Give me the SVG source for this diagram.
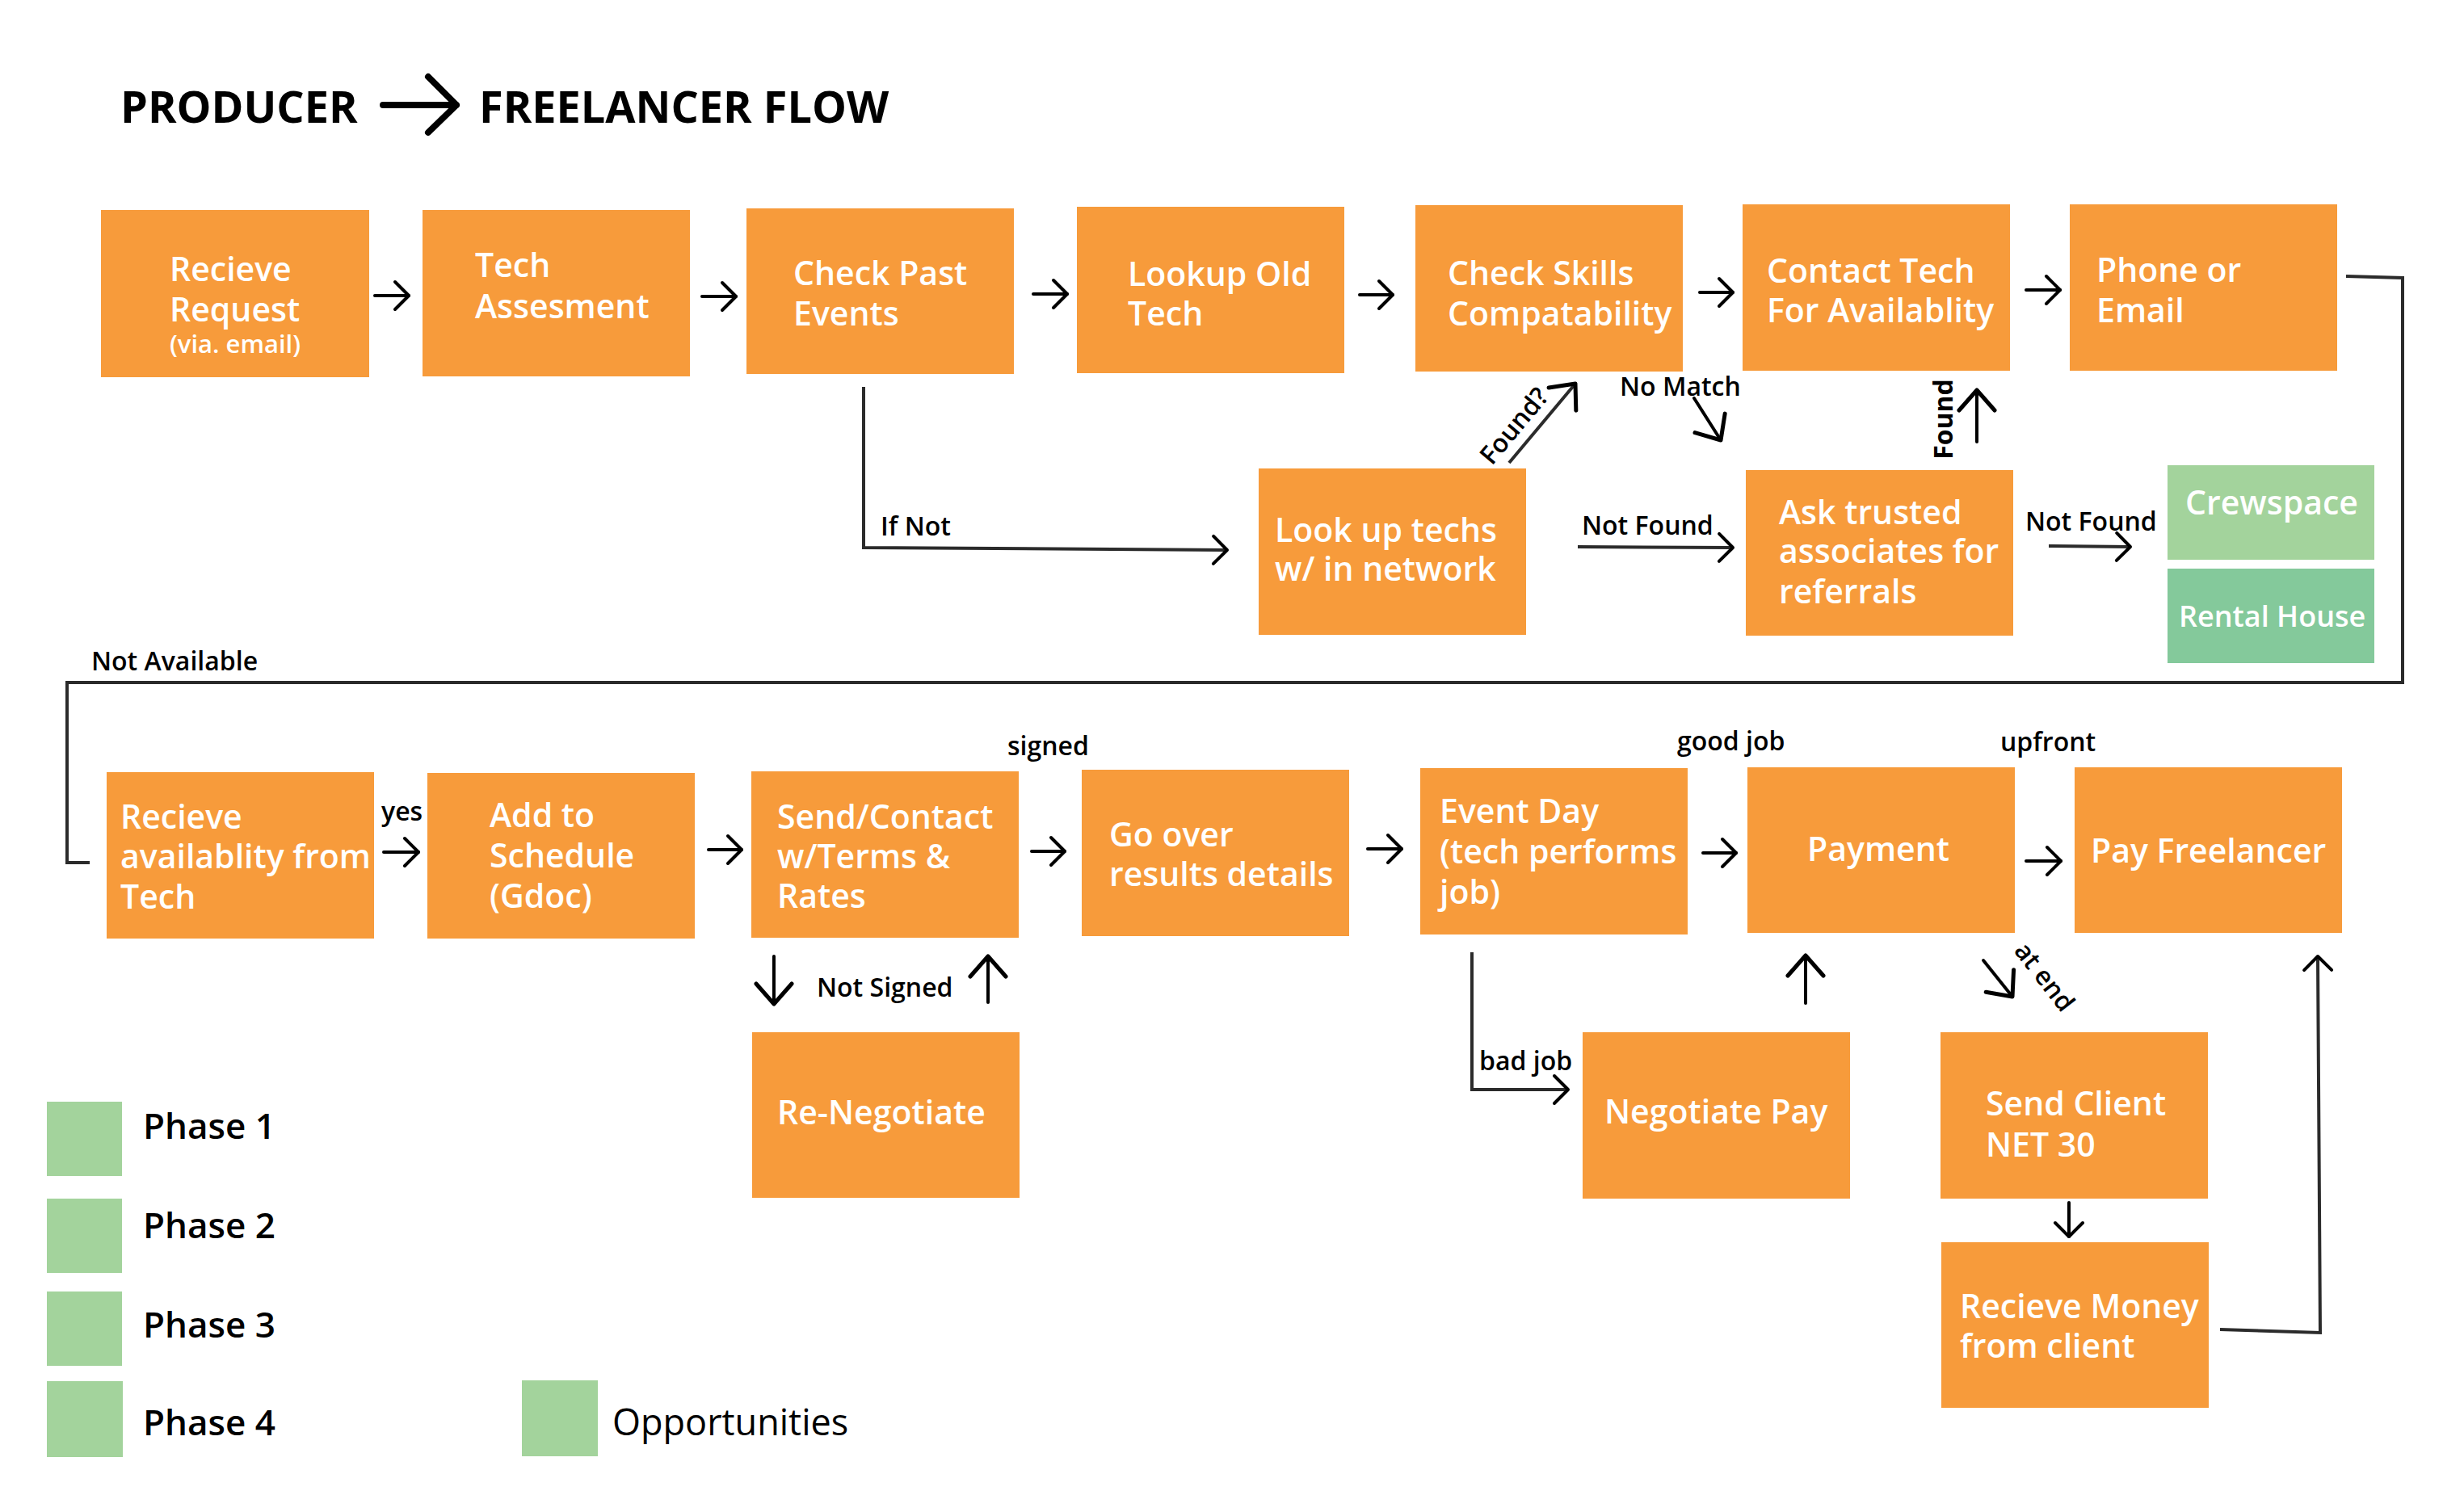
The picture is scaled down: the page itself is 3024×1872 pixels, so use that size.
<svg xmlns="http://www.w3.org/2000/svg" width="3024" height="1872" viewBox="0 0 3024 1872">
<style>
.box{fill:#F79B3B}
.opp{fill:#A3D39C}
.rent{fill:#84C99B}
.t{font-family:"Open Sans","Liberation Sans",sans-serif;font-weight:600;font-size:41px;fill:#fff}
.ts{font-size:31px}
.lb{font-family:"Open Sans","Liberation Sans",sans-serif;font-weight:600;font-size:32px;fill:#000}
.ph{font-family:"Open Sans","Liberation Sans",sans-serif;font-weight:600;font-size:44px;fill:#000}
.title{font-family:"Open Sans","Liberation Sans",sans-serif;font-weight:700;font-size:54px;fill:#000}
.c{fill:none;stroke:#000;stroke-width:4;stroke-linecap:round;stroke-linejoin:round}
.cl{fill:none;stroke:#2b2b2b;stroke-width:4;stroke-linejoin:miter}
</style>
<defs>
<marker id="s" markerUnits="userSpaceOnUse" viewBox="-2 -2 24 40" refX="18" refY="18" markerWidth="24" markerHeight="40" orient="auto">
<path d="M1,1 L18,18 L1,35" fill="none" stroke="#000" stroke-width="4" stroke-linecap="round" stroke-linejoin="round"/>
</marker>
<marker id="L" markerUnits="userSpaceOnUse" viewBox="-2 -2 32 50" refX="26" refY="23" markerWidth="32" markerHeight="50" orient="auto">
<path d="M1,1 L26,23 L1,45" fill="none" stroke="#000" stroke-width="5" stroke-linecap="round" stroke-linejoin="round"/>
</marker>
</defs>
<rect width="3024" height="1872" fill="#fff"/>

<g id="title">
<text class="title" x="149" y="152">PRODUCER</text>
<path d="M474,130 L565,130 M530,95 L565,130 L530,164" fill="none" stroke="#000" stroke-width="8" stroke-linecap="round" stroke-linejoin="round"/>
<text class="title" x="593" y="152">FREELANCER FLOW</text>
</g>

<g id="connectors">
<path class="c" d="M464,366 L506,366" marker-end="url(#s)"/>
<path class="c" d="M869,367 L911,367" marker-end="url(#s)"/>
<path class="c" d="M1279,364 L1321,364" marker-end="url(#s)"/>
<path class="c" d="M1683,365 L1724,365" marker-end="url(#s)"/>
<path class="c" d="M2104,362 L2145,362" marker-end="url(#s)"/>
<path class="c" d="M2508,359 L2550,359" marker-end="url(#s)"/>
<path class="cl" d="M1069,479 L1069,678 L1519,681" marker-end="url(#s)"/>
<path class="cl" d="M1868,573 L1950,475" marker-end="url(#L)"/>
<path class="c" d="M2097,493 L2130,545" marker-end="url(#L)"/>
<path class="c" d="M2447,547 L2447,483" marker-end="url(#L)"/>
<path class="cl" d="M1953,677 L2145,678" marker-end="url(#s)"/>
<path class="cl" d="M2536,676 L2637,677" marker-end="url(#s)"/>
<path class="cl" d="M2904,342 L2974,344 L2974,845 L83,845 L83,1068 L111,1068"/>
<path class="c" d="M475,1055 L518,1055" marker-end="url(#s)"/>
<path class="c" d="M877,1052 L918,1052" marker-end="url(#s)"/>
<path class="c" d="M1277,1054 L1318,1054" marker-end="url(#s)"/>
<path class="c" d="M958,1184 L958,1243" marker-end="url(#L)"/>
<path class="c" d="M1223,1241 L1223,1184" marker-end="url(#L)"/>
<path class="c" d="M1693,1051 L1735,1051" marker-end="url(#s)"/>
<path class="c" d="M2108,1056 L2149,1056" marker-end="url(#s)"/>
<path class="c" d="M2508,1066 L2551,1066" marker-end="url(#s)"/>
<path class="cl" d="M1822,1179 L1822,1349 L1941,1349" marker-end="url(#s)"/>
<path class="c" d="M2235,1242 L2235,1183" marker-end="url(#L)"/>
<path class="c" d="M2455,1189 L2491,1234" marker-end="url(#L)"/>
<path class="c" d="M2561,1489 L2561,1531" marker-end="url(#s)"/>
<path class="cl" d="M2748,1646 L2872,1650 L2869,1184" marker-end="url(#s)"/>
</g>

<g id="labels">
<text class="lb" x="1090" y="663">If Not</text>
<text class="lb" transform="translate(1875,528) rotate(-50)" text-anchor="middle" y="10">Found?</text>
<text class="lb" x="2005" y="490">No Match</text>
<text class="lb" transform="translate(2417,519) rotate(-90)" text-anchor="middle" y="0" style="font-weight:700">Found</text>
<text class="lb" x="1958" y="662">Not Found</text>
<text class="lb" x="2507" y="657">Not Found</text>
<text class="lb" x="113" y="830">Not Available</text>
<text class="lb" x="472" y="1016">yes</text>
<text class="lb" x="1247" y="935">signed</text>
<text class="lb" x="1011" y="1234">Not Signed</text>
<text class="lb" x="2076" y="929">good job</text>
<text class="lb" x="2476" y="930">upfront</text>
<text class="lb" x="1831" y="1325">bad job</text>
<text class="lb" transform="translate(2530,1210) rotate(52)" text-anchor="middle" y="10">at end</text>
</g>

<g id="n-recieve-request"><rect class="box" x="125" y="260" width="332" height="207"/><text class="t" x="210" y="348">Recieve</text><text class="t" x="210" y="398">Request</text><text class="t ts" x="210" y="437">(via. email)</text></g>
<g id="n-tech-assesment"><rect class="box" x="523" y="260" width="331" height="206"/><text class="t" x="588" y="343">Tech</text><text class="t" x="588" y="394">Assesment</text></g>
<g id="n-check-past-events"><rect class="box" x="924" y="258" width="331" height="205"/><text class="t" x="982" y="353">Check Past</text><text class="t" x="982" y="403">Events</text></g>
<g id="n-lookup-old-tech"><rect class="box" x="1333" y="256" width="331" height="206"/><text class="t" x="1396" y="354">Lookup Old</text><text class="t" x="1396" y="403">Tech</text></g>
<g id="n-check-skills"><rect class="box" x="1752" y="254" width="331" height="206"/><text class="t" x="1792" y="353">Check Skills</text><text class="t" x="1792" y="403">Compatability</text></g>
<g id="n-contact-tech"><rect class="box" x="2157" y="253" width="331" height="206"/><text class="t" x="2187" y="350">Contact Tech</text><text class="t" x="2187" y="399">For Availablity</text></g>
<g id="n-phone-email"><rect class="box" x="2562" y="253" width="331" height="206"/><text class="t" x="2595" y="349">Phone or</text><text class="t" x="2595" y="399">Email</text></g>
<g id="n-look-up-techs"><rect class="box" x="1558" y="580" width="331" height="206"/><text class="t" x="1578" y="671">Look up techs</text><text class="t" x="1578" y="719">w/ in network</text></g>
<g id="n-ask-trusted"><rect class="box" x="2161" y="582" width="331" height="205"/><text class="t" x="2202" y="649">Ask trusted</text><text class="t" x="2202" y="697">associates for</text><text class="t" x="2202" y="747">referrals</text></g>
<g id="n-crewspace"><rect class="opp" x="2683" y="576" width="256" height="117"/><text class="t" x="2705" y="637" style="font-size:41px">Crewspace</text></g>
<g id="n-rental-house"><rect class="rent" x="2683" y="704" width="256" height="117"/><text class="t" x="2697" y="776" style="font-size:36px">Rental House</text></g>

<g id="n-recieve-availablity"><rect class="box" x="132" y="956" width="331" height="206"/><text class="t" x="149" y="1026">Recieve</text><text class="t" x="149" y="1075">availablity from</text><text class="t" x="149" y="1125">Tech</text></g>
<g id="n-add-schedule"><rect class="box" x="529" y="957" width="331" height="205"/><text class="t" x="606" y="1024">Add to</text><text class="t" x="606" y="1074">Schedule</text><text class="t" x="606" y="1124">(Gdoc)</text></g>
<g id="n-send-contact"><rect class="box" x="930" y="955" width="331" height="206"/><text class="t" x="962" y="1026">Send/Contact</text><text class="t" x="962" y="1075">w/Terms &amp;</text><text class="t" x="962" y="1124">Rates</text></g>
<g id="n-re-negotiate"><rect class="box" x="931" y="1278" width="331" height="205"/><text class="t" x="962" y="1392">Re-Negotiate</text></g>
<g id="n-go-over"><rect class="box" x="1339" y="953" width="331" height="206"/><text class="t" x="1373" y="1048">Go over</text><text class="t" x="1373" y="1097">results details</text></g>
<g id="n-event-day"><rect class="box" x="1758" y="951" width="331" height="206"/><text class="t" x="1782" y="1019">Event Day</text><text class="t" x="1782" y="1069">(tech performs</text><text class="t" x="1782" y="1119">job)</text></g>
<g id="n-payment"><rect class="box" x="2163" y="950" width="331" height="205"/><text class="t" x="2237" y="1066">Payment</text></g>
<g id="n-pay-freelancer"><rect class="box" x="2568" y="950" width="331" height="205"/><text class="t" x="2588" y="1068">Pay Freelancer</text></g>
<g id="n-negotiate-pay"><rect class="box" x="1959" y="1278" width="331" height="206"/><text class="t" x="1986" y="1391">Negotiate Pay</text></g>
<g id="n-send-client"><rect class="box" x="2402" y="1278" width="331" height="206"/><text class="t" x="2458" y="1381">Send Client</text><text class="t" x="2458" y="1432">NET 30</text></g>
<g id="n-recieve-money"><rect class="box" x="2403" y="1538" width="331" height="205"/><text class="t" x="2426" y="1632">Recieve Money</text><text class="t" x="2426" y="1681">from client</text></g>

<g id="legend">
<rect class="opp" x="58" y="1364" width="93" height="92"/><text class="ph" x="177" y="1410">Phase 1</text>
<rect class="opp" x="58" y="1484" width="93" height="92"/><text class="ph" x="177" y="1533">Phase 2</text>
<rect class="opp" x="58" y="1599" width="93" height="92"/><text class="ph" x="177" y="1656">Phase 3</text>
<rect class="opp" x="58" y="1710" width="94" height="94"/><text class="ph" x="177" y="1777">Phase 4</text>
<rect class="opp" x="646" y="1709" width="94" height="94"/><text x="758" y="1777" style="font-family:'Open Sans','Liberation Sans',sans-serif;font-size:45px;fill:#000">Opportunities</text>
</g>
</svg>
